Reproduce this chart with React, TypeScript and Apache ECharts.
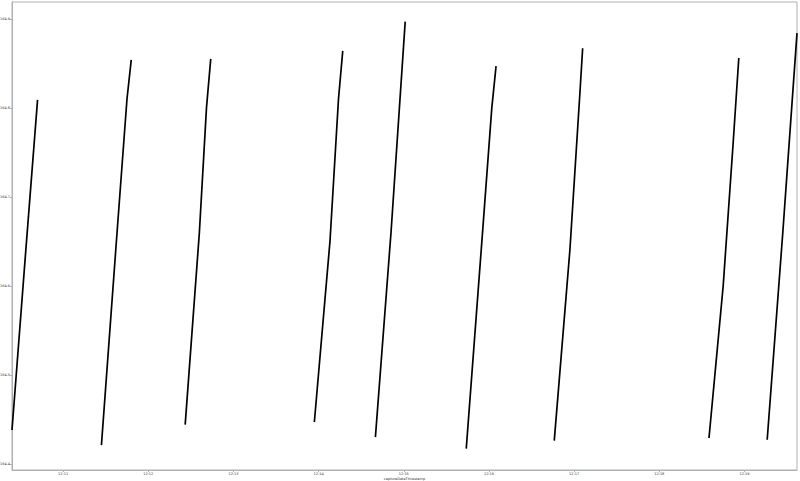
import React, { useEffect, useRef } from "react";
import * as echarts from "echarts";

// capture times (HH:MM:SS) and values; "-" marks a gap between ramps
const captureTimes: string[] = [
  "12:10:24", "12:10:33", "12:10:42", "-",
  "12:11:27", "12:11:38", "12:11:45", "12:11:48", "-",
  "12:12:26", "12:12:36", "12:12:41", "12:12:44", "-",
  "12:13:57", "12:14:08", "12:14:14", "12:14:17", "-",
  "12:14:40", "12:14:51", "12:15:01", "-",
  "12:15:44", "12:15:55", "12:16:02", "12:16:05", "-",
  "12:16:46", "12:16:57", "12:17:04", "12:17:06", "-",
  "12:18:35", "12:18:45", "12:18:52", "12:18:56", "-",
  "12:19:16", "12:19:27", "12:19:37",
];
const pressureValues: (number | null)[] = [
  164.438, 164.625, 164.809, null,
  164.421, 164.660, 164.810, 164.854, null,
  164.444, 164.660, 164.800, 164.855, null,
  164.447, 164.650, 164.810, 164.864, null,
  164.430, 164.660, 164.897, null,
  164.417, 164.650, 164.800, 164.847, null,
  164.426, 164.640, 164.815, 164.867, null,
  164.429, 164.600, 164.760, 164.856, null,
  164.427, 164.660, 164.884,
];
const xTickLabels: string[] = ["12:11", "12:12", "12:13", "12:14", "12:15", "12:16", "12:17", "12:18", "12:19"];
const yTickValues: number[] = [164.4, 164.5, 164.6, 164.7, 164.8, 164.9];

const toSec = (t: string) => {
  const p = t.split(":").map(Number);
  return (p[0] - 12) * 3600 + p[1] * 60 + (p[2] || 0);
};

export default function App() {
  const ref = useRef<HTMLDivElement>(null);
  useEffect(() => {
    if (!ref.current) return;
    const chart = echarts.init(ref.current, null, { renderer: "svg" });
    const data = captureTimes.map((t, i) =>
      t === "-" || pressureValues[i] === null ? ["-", "-"] : [toSec(t), pressureValues[i]]
    );
    const xTicks = xTickLabels.map(toSec);
    const gray = "#b0b0b0";
    chart.setOption({
      animation: false,
      backgroundColor: "#ffffff",
      grid: {
        left: 12, right: 3, top: 2, bottom: 11,
        outerBoundsMode: "none", containLabel: false,
        show: true, borderColor: gray, borderWidth: 1,
      },
      xAxis: {
        type: "value",
        min: toSec("12:10:24"),
        max: toSec("12:19:37"),
        name: "captureDateTimestamp",
        nameLocation: "middle",
        nameGap: 7,
        nameMoveOverlap: false,
        nameTextStyle: { fontSize: 3.5, color: "#333333", fontFamily: "DejaVu Sans" },
        axisLine: { show: true, lineStyle: { color: gray } },
        axisTick: { show: true, length: 2, lineStyle: { color: gray }, customValues: xTicks },
        axisLabel: {
          fontSize: 3.5, color: "#333333", margin: 2, fontFamily: "DejaVu Sans",
          customValues: xTicks,
          formatter: (v: number) => {
            const m = Math.round(v / 60);
            return "12:" + String(m % 60).padStart(2, "0");
          },
        },
        splitLine: { show: false },
      },
      yAxis: {
        type: "value",
        min: 164.393,
        max: 164.919,
        axisLine: { show: true, lineStyle: { color: gray } },
        axisTick: { show: true, length: 2, lineStyle: { color: gray }, customValues: yTickValues },
        axisLabel: {
          fontSize: 3.5, color: "#333333", margin: 2, fontFamily: "DejaVu Sans",
          customValues: yTickValues,
          formatter: (v: number) => v.toFixed(1),
        },
        splitLine: { show: false },
      },
      series: [
        {
          type: "line",
          data,
          showSymbol: false,
          connectNulls: false,
          lineStyle: { color: "#000000", width: 1.7 },
        },
      ],
    });
    return () => chart.dispose();
  }, []);
  return <div ref={ref} style={{ position: "fixed", left: 0, top: 0, width: 800, height: 481 }} />;
}
